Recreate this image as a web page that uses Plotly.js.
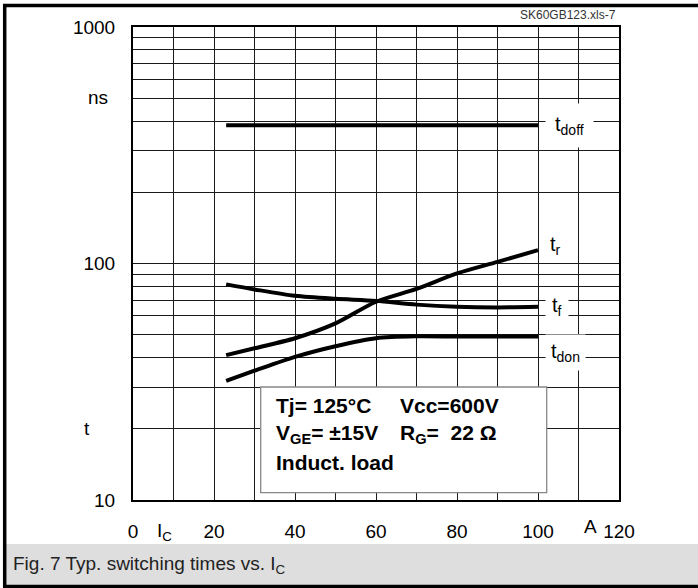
<!DOCTYPE html>
<html>
<head>
<meta charset="utf-8">
<script src="https://cdn.plot.ly/plotly-3.0.1.min.js"></script>
<style>
  html, body { margin: 0; padding: 0; background: #fff; }
  #chart { width: 698px; height: 588px; }
</style>
</head>
<body>
<div id="chart"></div>
<script>
// ---- data ----
const ic    = [23, 30, 40, 50, 60, 70, 80, 90, 100];          // I_C in A
const tdoff = [384, 384, 384, 384, 384, 384, 384, 384, 384];  // ns
const tr    = [41.0, 43.8, 48.3, 55.8, 68.9, 78.1, 90.8, 101.6, 113.9];
const tf    = [81.6, 77.7, 73.0, 70.9, 69.5, 67.0, 65.6, 65.2, 65.6];
const tdon  = [31.9, 35.2, 40.3, 44.7, 48.3, 49.2, 49.1, 49.1, 49.1];

const seriesNames  = ['t<sub>doff</sub>', 't<sub>r</sub>', 't<sub>f</sub>', 't<sub>don</sub>'];
const seriesValues = [tdoff, tr, tf, tdon];

const xTickVals  = [0, 20, 40, 60, 80, 100, 120];
const xTickText  = ['0', '20', '40', '60', '80', '100', '120'];
const xMinorVals = [10, 30, 50, 70, 90, 110];
const yTickVals  = [10, 100, 1000];
const yTickText  = ['10', '100', '1000'];
const yMinorVals = [20, 30, 40, 50, 60, 70, 80, 90, 200, 300, 400, 500, 600, 700, 800, 900];

const infoLines1 = ['Tj= 125°C', 'V<sub>GE</sub>= ±15V', 'Induct. load'];
const infoLines2 = ['Vcc=600V', 'R<sub>G</sub>=  22 Ω', ''];
const captionText = 'Fig. 7 Typ. switching times vs. I<sub>C</sub>';
const sourceText = 'SK60GB123.xls-7';

// ---- layout geometry helpers ----
const M = { l: 133, r: 79, t: 27, b: 88 };
const PW = 698 - M.l - M.r, PH = 588 - M.t - M.b;
const px = v => (v - M.l) / PW;
const py = v => (588 - M.b - v) / PH;
const FONT = '"Liberation Sans", Arial, sans-serif';

const traces = seriesValues.map((vals, i) => ({
  x: ic, y: vals, type: 'scatter', mode: 'lines',
  line: { color: '#000', width: 4, shape: 'spline', smoothing: 0.8 },
  name: seriesNames[i], showlegend: false, hoverinfo: 'skip'
}));

const labelShift = [0, 5, 0, -16];
const labelPad = [9, 4, 6, 5];
const annotations = seriesValues.map((vals, i) => ({
  xref: 'x', yref: 'y', x: 101.8, y: Math.log10(vals[vals.length - 1]),
  xanchor: 'left', yanchor: 'middle', yshift: labelShift[i],
  text: seriesNames[i], showarrow: false,
  bgcolor: '#fff', borderpad: labelPad[i],
  font: { family: FONT, size: 20, color: '#000' }
}));

// info box texts
infoLines1.forEach((t, i) => annotations.push({
  xref: 'paper', yref: 'paper', x: px(274), y: py(405 + i * 28.5),
  xanchor: 'left', yanchor: 'middle', text: '<b>' + t + '</b>', showarrow: false,
  font: { family: FONT, size: 21, color: '#000' }
}));
infoLines2.forEach((t, i) => { if (t) annotations.push({
  xref: 'paper', yref: 'paper', x: px(398), y: py(405 + i * 28.5),
  xanchor: 'left', yanchor: 'middle', text: '<b>' + t + '</b>', showarrow: false,
  font: { family: FONT, size: 21, color: '#000' }
}); });

// axis words
annotations.push(
  { xref: 'paper', yref: 'paper', x: px(98), y: py(97), text: 'ns', showarrow: false,
    xanchor: 'center', yanchor: 'middle', font: { family: FONT, size: 19, color: '#000' } },
  { xref: 'paper', yref: 'paper', x: px(87), y: py(428), text: 't', showarrow: false,
    xanchor: 'center', yanchor: 'middle', font: { family: FONT, size: 19, color: '#000' } },
  { xref: 'paper', yref: 'paper', x: px(155), y: py(532), text: 'I<sub>C</sub>', showarrow: false,
    xanchor: 'left', yanchor: 'middle', font: { family: FONT, size: 19, color: '#000' } },
  { xref: 'paper', yref: 'paper', x: px(590), y: py(526), text: 'A', showarrow: false,
    xanchor: 'center', yanchor: 'middle', font: { family: FONT, size: 19, color: '#000' } },
  { xref: 'paper', yref: 'paper', x: px(618), y: py(15), text: sourceText, showarrow: false,
    xanchor: 'right', yanchor: 'middle', font: { family: FONT, size: 12, color: '#333' } },
  { xref: 'paper', yref: 'paper', x: px(11), y: py(565), text: captionText, showarrow: false,
    xanchor: 'left', yanchor: 'middle', font: { family: FONT, size: 19, color: '#222' } }
);

const shapes = [
  // caption band
  { type: 'rect', xref: 'paper', yref: 'paper', x0: px(6), x1: px(698), y0: py(544), y1: py(585),
    fillcolor: '#dedede', line: { width: 0 }, layer: 'below' },
  // outer frame
  { type: 'line', xref: 'paper', yref: 'paper', x0: px(3), x1: px(698), y0: py(5.5), y1: py(5.5),
    line: { color: '#000', width: 3.5 } },
  { type: 'line', xref: 'paper', yref: 'paper', x0: px(4.7), x1: px(4.7), y0: py(4), y1: py(588),
    line: { color: '#000', width: 3.5 } },
  { type: 'line', xref: 'paper', yref: 'paper', x0: px(3), x1: px(698), y0: py(586.5), y1: py(586.5),
    line: { color: '#000', width: 3.5 } },
  // info box
  { type: 'rect', xref: 'paper', yref: 'paper', x0: px(260.7), x1: px(546.7), y0: py(492.7), y1: py(387),
    fillcolor: '#fff', line: { color: '#888', width: 1.3 }, layer: 'above' }
];

const gridStyle = { showgrid: true, gridcolor: '#1a1a1a', gridwidth: 1 };

const layout = {
  width: 698, height: 588,
  margin: M,
  paper_bgcolor: '#fff', plot_bgcolor: '#fff',
  showlegend: false,
  font: { family: FONT, size: 19, color: '#000' },
  xaxis: Object.assign({
    range: [0, 120], tickmode: 'array', tickvals: xTickVals, ticktext: xTickText,
    zeroline: false,
    showline: true, linecolor: '#000', linewidth: 2, mirror: true,
    ticks: 'outside', ticklen: 13, tickcolor: 'rgba(0,0,0,0)',
    tickfont: { family: FONT, size: 19, color: '#000' },
    minor: Object.assign({ tickmode: 'array', tickvals: xMinorVals, ticks: '' }, gridStyle)
  }, gridStyle),
  yaxis: Object.assign({
    type: 'log', range: [1, 3], tickmode: 'array', tickvals: yTickVals, ticktext: yTickText,
    zeroline: false,
    showline: true, linecolor: '#000', linewidth: 2, mirror: true,
    ticks: '', ticklabelstandoff: 12,
    tickfont: { family: FONT, size: 19, color: '#000' },
    minor: Object.assign({ tickmode: 'array', tickvals: yMinorVals, ticks: '' }, gridStyle)
  }, gridStyle),
  shapes: shapes,
  annotations: annotations
};

Plotly.newPlot('chart', traces, layout, { staticPlot: true, displayModeBar: false });
</script>
</body>
</html>
